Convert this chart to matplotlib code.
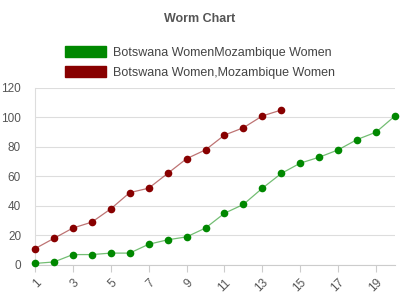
import matplotlib
matplotlib.use('Agg')
import matplotlib.pyplot as plt
from matplotlib.patches import Patch

# data
x_green = list(range(1, 21))
green = [1, 2, 7, 7, 8, 8, 14, 17, 19, 25, 35, 41, 52, 62, 69, 73, 78, 85, 90, 101]
x_red = list(range(1, 15))
red = [11, 18, 25, 29, 38, 49, 52, 62, 72, 78, 88, 93, 101, 105]
labels = ['Botswana WomenMozambique Women', 'Botswana Women,Mozambique Women']
colors = ['#008800', '#880000']
x_ticks = list(range(1, 21, 2))
y_ticks = list(range(0, 121, 20))

plt.rcParams['font.family'] = ['Liberation Sans', 'DejaVu Sans']

fig = plt.figure(figsize=(4, 3), dpi=100)
ax = fig.add_axes([0.0875, 0.117, 0.9, 0.59])

for xs, ys, c in [(x_green, green, colors[0]), (x_red, red, colors[1])]:
    ax.plot(xs, ys, color=c, alpha=0.55, linewidth=0.9, clip_on=False, zorder=3)
    ax.plot(xs, ys, 'o', color=c, markersize=5.5, markeredgewidth=0, clip_on=False, zorder=4)

ax.set_xlim(1, 20)
ax.set_ylim(0, 120)
ax.set_xticks(x_ticks)
ax.set_yticks(y_ticks)
ax.tick_params(axis='x', colors='#cccccc', labelcolor='#555555', labelsize=8.5,
               length=5, labelrotation=45)
for lbl in ax.get_xticklabels():
    lbl.set_ha('right')
    lbl.set_va('top')
    lbl.set_rotation_mode('anchor')
ax.tick_params(axis='y', length=0, labelcolor='#555555', labelsize=8.5, pad=10)
ax.grid(axis='y', color='#dddddd', linewidth=0.8)
ax.set_axisbelow(True)
for side in ['top', 'right']:
    ax.spines[side].set_visible(False)
ax.spines['left'].set_color('#dddddd')
ax.spines['bottom'].set_color('#cccccc')

fig.text(0.5, 0.925, 'Worm Chart', ha='center', fontsize=9, fontweight='bold', color='#555555')

handles = [Patch(facecolor=c, edgecolor=c) for c in colors]
fig.legend(handles, labels, loc='upper center', bbox_to_anchor=(0.5, 0.885), ncol=1,
           frameon=False, fontsize=9, handlelength=3.3, handleheight=1.0,
           labelspacing=0.6, handletextpad=0.6, labelcolor='#444444')

fig.savefig('out.png', dpi=100)
